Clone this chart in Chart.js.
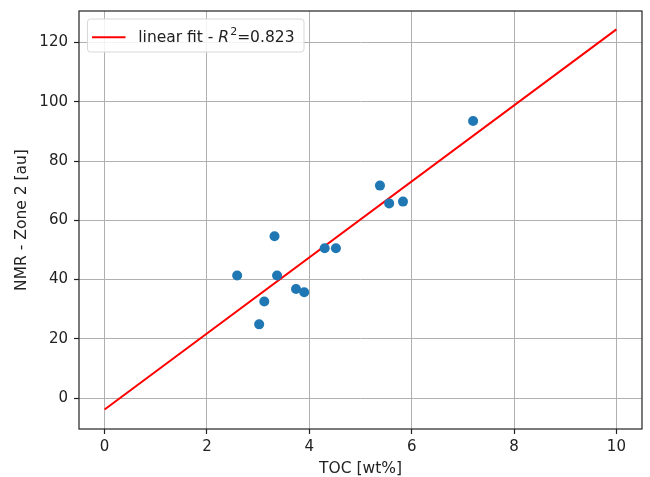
<!DOCTYPE html>
<html lang="en">
<head>
<meta charset="UTF-8">
<title>TOC vs NMR Zone 2</title>
<script src="https://cdn.jsdelivr.net/npm/chart.js"></script>
<style>
  html, body { margin: 0; padding: 0; background: #fff; }
  .chart-container { position: relative; width: 650px; height: 477px; }
</style>
</head>
<body>
<div class="chart-container">
    <canvas id="myChart"></canvas>
</div>

<script>
// measured points
const tocValues = [2.59, 3.02, 3.12, 3.32, 3.37, 3.74, 3.90, 4.30, 4.52, 5.38, 5.56, 5.83, 7.20];
const nmrValues = [41.4, 24.9, 32.6, 54.6, 41.4, 36.8, 35.7, 50.6, 50.6, 71.7, 65.7, 66.3, 93.5];

// linear fit end points
const fitX = [0, 10];
const fitY = [-3.8, 124.4];

const xTicks = [0, 2, 4, 6, 8, 10];
const yTicks = [0, 20, 40, 60, 80, 100, 120];

// legend text pieces: plain, italic R, superscript 2, plain
const legendParts = ["linear fit - ", "R", "2", "=0.823"];

const FONT = "'DejaVu Sans', sans-serif";
const TEXT = "#222";

const framePlugin = {
    id: "frame",
    afterDraw(chart) {
        const a = chart.chartArea;
        const ctx = chart.ctx;
        ctx.save();
        ctx.strokeStyle = "#222";
        ctx.lineWidth = 1.2;
        ctx.strokeRect(a.left, a.top, a.right - a.left, a.bottom - a.top);
        ctx.restore();
    }
};

const legendPlugin = {
    id: "fitLegend",
    afterDraw(chart) {
        const ctx = chart.ctx;
        const x = 87.5, y = 19, w = 216.5, h = 33, r = 3;
        ctx.save();
        ctx.beginPath();
        ctx.roundRect(x, y, w, h, r);
        ctx.fillStyle = "rgba(255,255,255,0.85)";
        ctx.fill();
        ctx.strokeStyle = "#d8d8d8";
        ctx.lineWidth = 1;
        ctx.stroke();

        // line sample
        ctx.beginPath();
        ctx.moveTo(92, 37.3);
        ctx.lineTo(125.5, 37.3);
        ctx.strokeStyle = "red";
        ctx.lineWidth = 2;
        ctx.stroke();

        // label
        ctx.fillStyle = TEXT;
        ctx.textBaseline = "alphabetic";
        ctx.textAlign = "left";
        let tx = 138.3;
        const base = 41.7;
        ctx.font = "15.5px " + FONT;
        ctx.fillText(legendParts[0], tx, base);
        tx += ctx.measureText(legendParts[0]).width;
        ctx.font = "italic 15.5px " + FONT;
        ctx.fillText(legendParts[1], tx, base);
        tx += ctx.measureText(legendParts[1]).width + 1;
        ctx.font = "11px " + FONT;
        ctx.fillText(legendParts[2], tx, base - 6.5);
        tx += ctx.measureText(legendParts[2]).width;
        ctx.font = "15.5px " + FONT;
        ctx.fillText(legendParts[3], tx, base);
        ctx.restore();
    }
};

const gridOpts = {
    color: "#b0b0b0",
    lineWidth: 1,
    tickLength: 5,
    tickColor: "#222",
    tickWidth: 1.2
};

const ctx = document.getElementById("myChart").getContext("2d");
const chart = new Chart(ctx, {
    type: "scatter",
    data: {
        datasets: [
            {
                label: "data",
                data: tocValues.map((v, i) => ({ x: v, y: nmrValues[i] })),
                backgroundColor: "#1f77b4",
                borderColor: "#1f77b4",
                pointRadius: 5,
                pointBorderWidth: 0
            },
            {
                label: "linear fit",
                data: fitX.map((v, i) => ({ x: v, y: fitY[i] })),
                showLine: true,
                borderColor: "red",
                borderWidth: 2,
                pointRadius: 0,
                fill: false
            }
        ]
    },
    options: {
        responsive: true,
        maintainAspectRatio: false,
        animation: false,
        layout: { padding: { left: 0, right: 8, top: 11, bottom: 0 } },
        plugins: {
            legend: { display: false },
            tooltip: { enabled: false }
        },
        scales: {
            x: {
                type: "linear",
                min: -0.5,
                max: 10.5,
                afterBuildTicks: s => { s.ticks = xTicks.map(v => ({ value: v })); },
                afterFit: s => { s.height = 48; s.paddingLeft = 0; s.paddingRight = 0; },
                grid: gridOpts,
                border: { display: false },
                ticks: { color: TEXT, font: { family: FONT, size: 15 }, padding: 4, maxRotation: 0 },
                title: { display: true, text: "TOC [wt%]", color: TEXT, font: { family: FONT, size: 15.5 }, padding: { top: 0, bottom: -1 } }
            },
            y: {
                type: "linear",
                min: -10.4,
                max: 130.6,
                afterBuildTicks: s => { s.ticks = yTicks.map(v => ({ value: v })); },
                afterFit: s => { s.width = 79; s.paddingTop = 0; s.paddingBottom = 0; },
                grid: gridOpts,
                border: { display: false },
                ticks: { color: TEXT, font: { family: FONT, size: 15 }, padding: 6 },
                title: { display: true, text: "NMR - Zone 2 [au]", color: TEXT, font: { family: FONT, size: 15.5 }, padding: { top: 13, bottom: 0 } }
            }
        }
    },
    plugins: [framePlugin, legendPlugin]
});
</script>
</body>
</html>
